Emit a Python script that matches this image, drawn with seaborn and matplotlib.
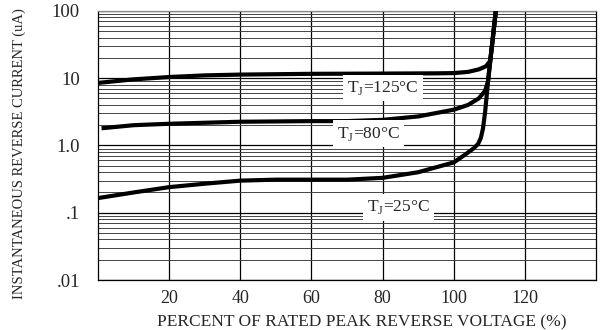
import numpy as np
import pandas as pd
import seaborn as sns
import matplotlib.pyplot as plt
from matplotlib.ticker import LogLocator, NullFormatter

# curves (percent of VRRM, uA)
x_125 = [0, 10, 20, 30, 40, 60, 80, 95, 100, 104, 107, 109, 110.2, 110.7, 111.8]
y_125 = [8.5, 9.6, 10.4, 11.0, 11.3, 11.6, 11.7, 11.8, 11.9, 12.4, 13.5, 15, 18, 30, 100]

x_80 = [1, 10, 20, 40, 60, 70, 80, 90, 100, 104, 107, 108.8, 109.6, 110.7, 111.8]
y_80 = [1.8, 2.0, 2.1, 2.25, 2.3, 2.3, 2.4, 2.7, 3.4, 4.0, 5.0, 6.5, 9, 30, 100]

x_25 = [0, 10, 20, 30, 40, 50, 60, 70, 80, 90, 100, 103, 105.5, 106.8, 107.6, 108.2, 108.8, 109.7, 110.7, 111.8]
y_25 = [0.165, 0.2, 0.24, 0.27, 0.30, 0.31, 0.31, 0.31, 0.33, 0.40, 0.56, 0.72, 0.9, 1.05, 1.3, 1.8, 3.2, 10, 30, 100]

labels = ['T$_\\mathregular{J}$=125°C', 'T$_\\mathregular{J}$=80°C', 'T$_\\mathregular{J}$=25°C']
label_x = [80, 76, 84.5]
label_y = [7.2, 1.5, 0.12]

x_ticks = [20, 40, 60, 80, 100, 120]
y_ticks = [0.01, 0.1, 1, 10, 100]
y_ticklabels = ['.01', '.1', '1.0', '10', '100']

sns.set_style('white')
plt.rcParams['font.family'] = ['Liberation Serif', 'DejaVu Serif']
plt.rcParams['mathtext.fontset'] = 'custom'
plt.rcParams['mathtext.rm'] = 'Liberation Serif'

fig = plt.figure(figsize=(6.01, 3.30), dpi=100)
ax = fig.add_axes([0.163, 0.1515, 0.829, 0.8155])

for xs, ys in [(x_125, y_125), (x_80, y_80), (x_25, y_25)]:
    df = pd.DataFrame({'x': xs, 'y': ys})
    sns.lineplot(data=df, x='x', y='y', ax=ax, sort=False, color='black',
                 linewidth=3.0, solid_capstyle='butt', solid_joinstyle='round', zorder=5)

ax.set_yscale('log')
ax.set_xlim(0, 140)
ax.set_ylim(0.01, 100)

ax.set_xticks(x_ticks)
ax.set_xticklabels([str(t) for t in x_ticks], fontsize=13)
ax.set_yticks(y_ticks)
ax.set_yticklabels(y_ticklabels, fontsize=13.5)
ax.yaxis.set_minor_locator(LogLocator(base=10, subs=np.arange(2, 10), numticks=20))
ax.yaxis.set_minor_formatter(NullFormatter())
ax.tick_params(axis='y', which='both', length=0, pad=13)
ax.tick_params(axis='x', which='both', length=0, pad=7)

ax.grid(True, which='major', axis='both', color='black', linewidth=0.9)
ax.grid(True, which='minor', axis='y', color='#444444', linewidth=0.7)
ax.set_axisbelow(True)

for s in ax.spines.values():
    s.set_color('black')
    s.set_linewidth(0.9)
ax.spines['top'].set_color('#888888')

for t, lx, ly in zip(labels, label_x, label_y):
    ax.text(lx, ly, t, fontsize=12.5, ha='center', va='center', zorder=6,
            bbox=dict(facecolor='white', edgecolor='none', pad=3))

ax.set_xlabel('PERCENT OF RATED PEAK REVERSE VOLTAGE (%)', fontsize=12.5)
ax.set_ylabel('INSTANTANEOUS REVERSE CURRENT (uA)', fontsize=10.5)
ax.xaxis.set_label_coords(0.53, -0.128)
ax.yaxis.set_label_coords(-0.145, 0.47)

fig.savefig('out.png', dpi=100)
